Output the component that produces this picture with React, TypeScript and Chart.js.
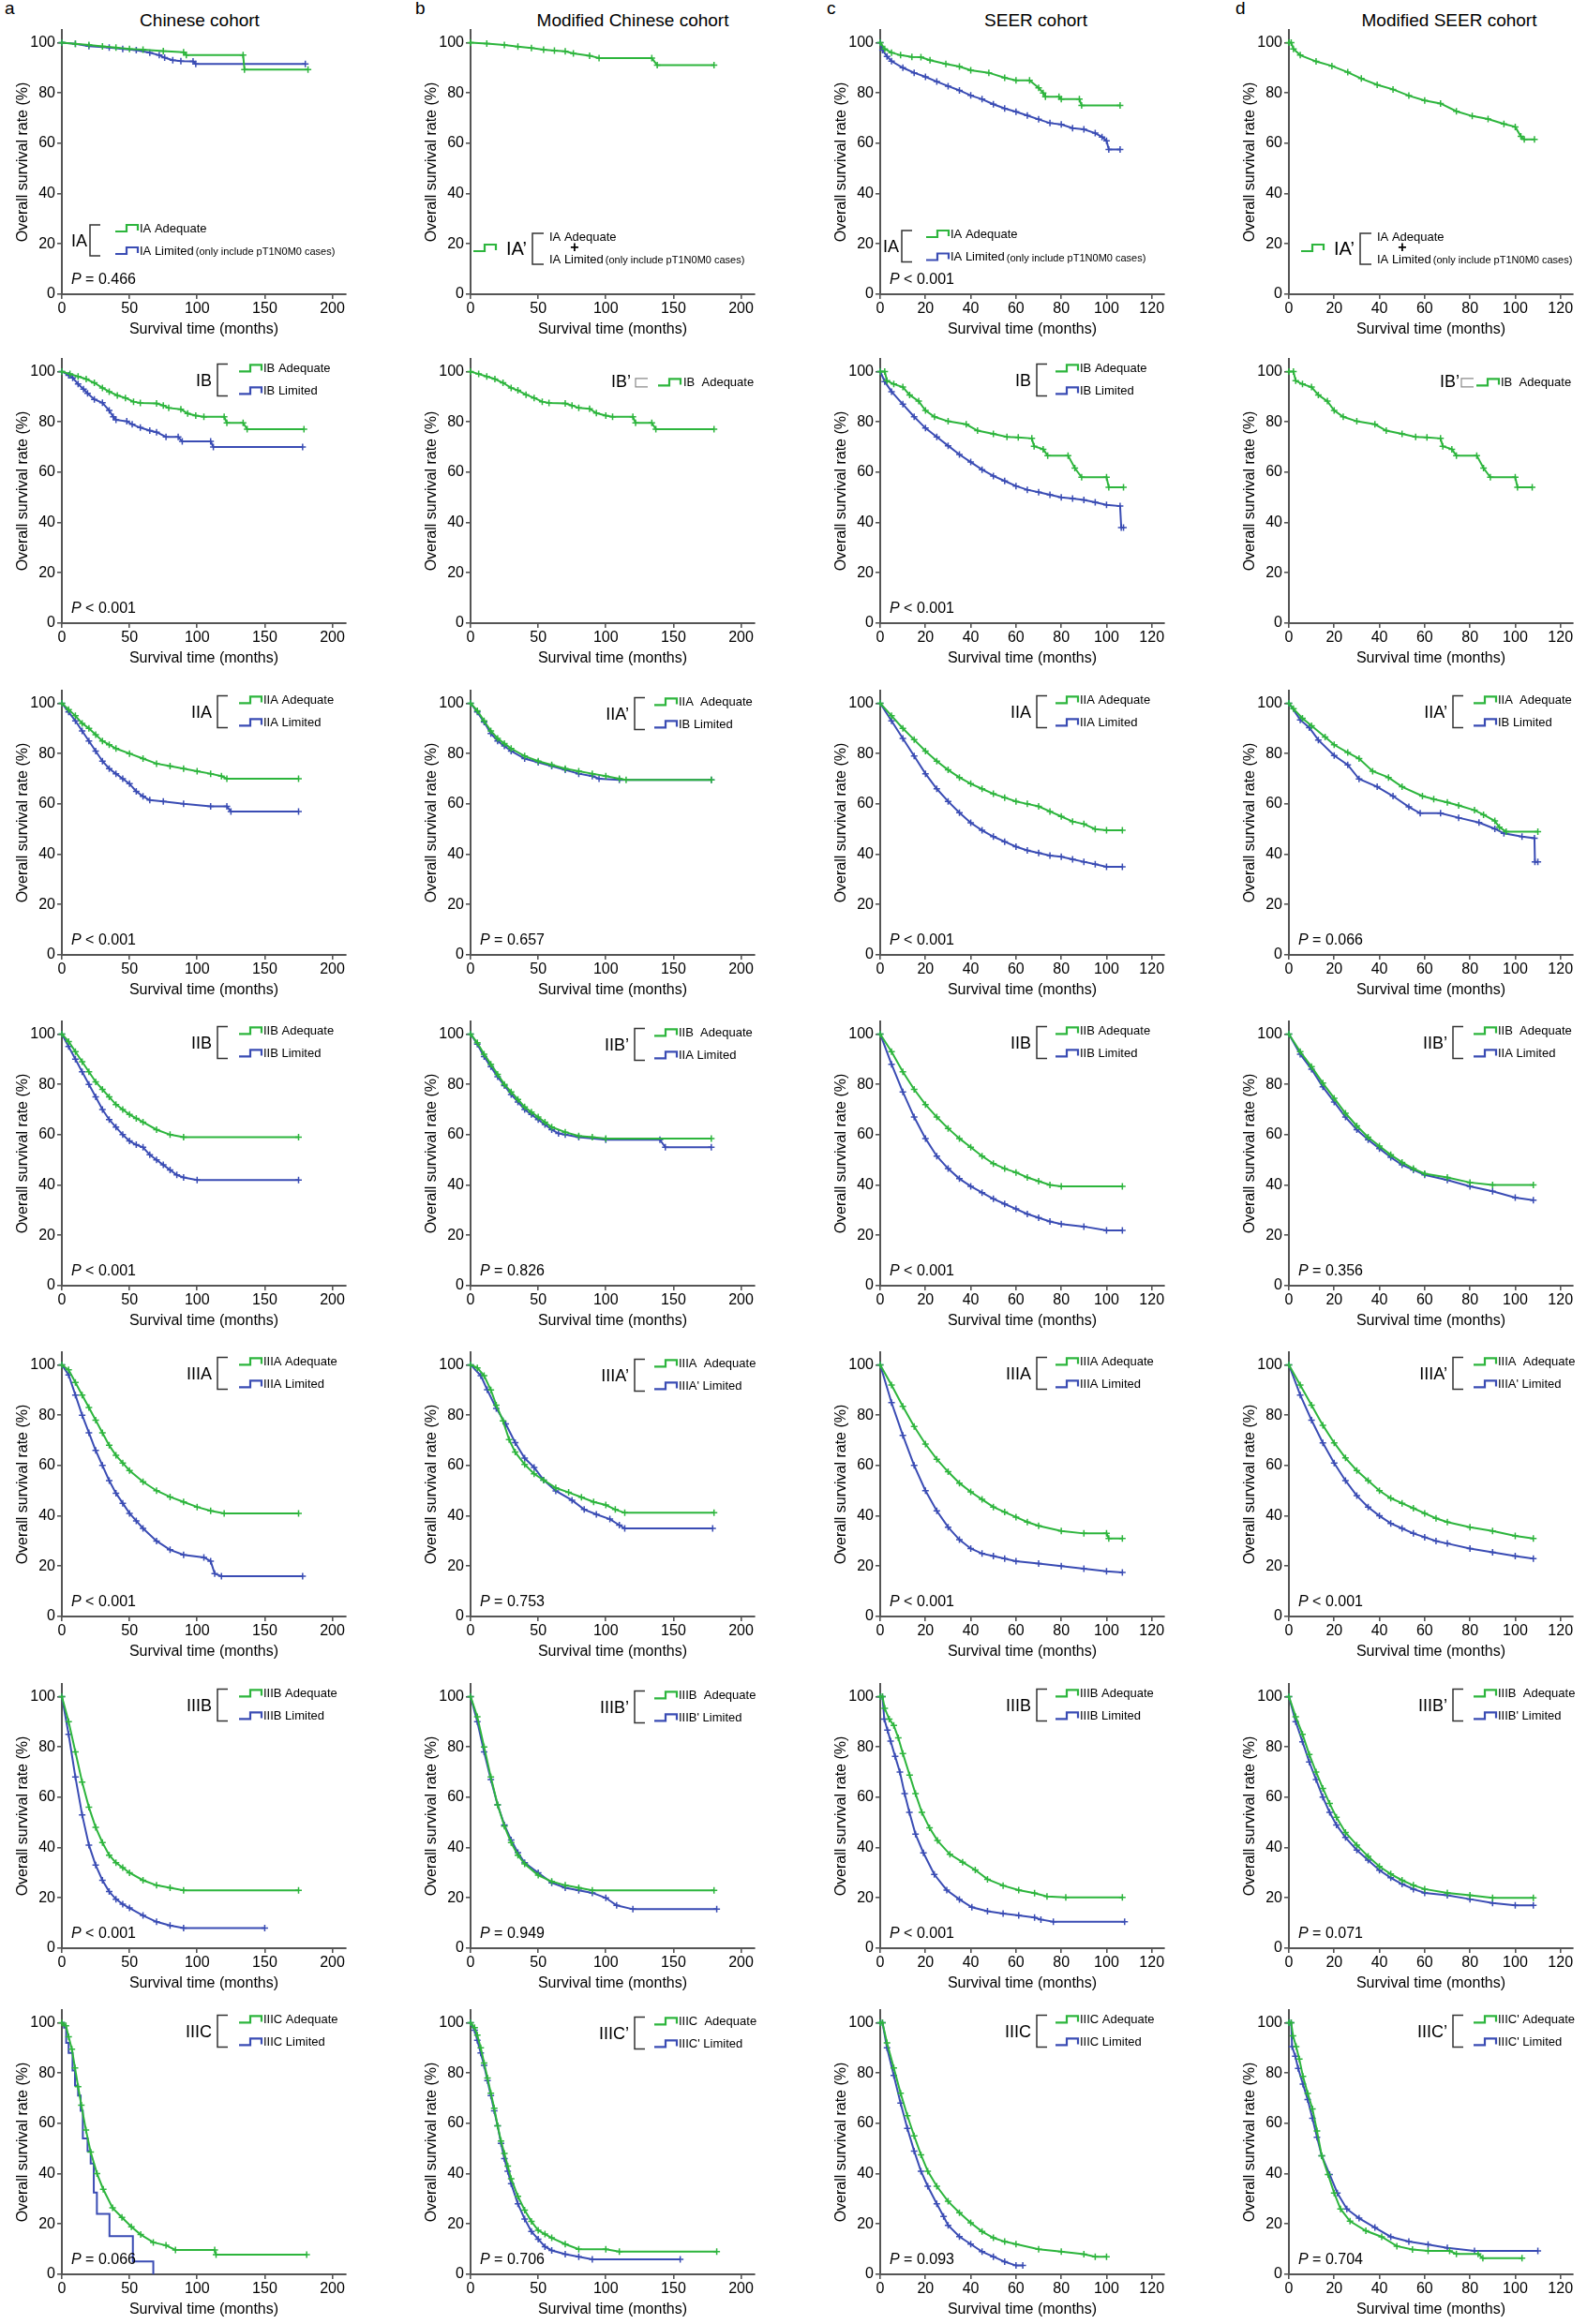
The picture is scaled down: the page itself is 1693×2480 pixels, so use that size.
import React, { useEffect, useRef } from "react";
import { Chart, registerables } from "chart.js";

Chart.register(...registerables);

type Pt = [number, number];

// ---------------- text ----------------
const COLUMN_LETTERS = ["a", "b", "c", "d"];
const COLUMN_TITLES = ["Chinese cohort", "Modified Chinese cohort", "SEER cohort", "Modified SEER cohort"];
const STAGES = ["IA", "IB", "IIA", "IIB", "IIIA", "IIIB", "IIIC"];
const MOD_LABELS = ["IA\u2019", "IB\u2019", "IIA\u2019", "IIB\u2019", "IIIA\u2019", "IIIB\u2019", "IIIC\u2019"];
const MCN_ADEQ_TEXT = ["IA Adequate", "IB  Adequate", "IIA  Adequate", "IIB  Adequate", "IIIA  Adequate", "IIIB  Adequate", "IIIC  Adequate"];
const MSEER_ADEQ_TEXT = ["IA Adequate", "IB  Adequate", "IIA  Adequate", "IIB  Adequate", "IIIA  Adequate", "IIIB  Adequate", "IIIC' Adequate"];
const MOD_LIM_TEXT = ["IA Limited", "", "IB Limited", "IIA Limited", "IIIA' Limited", "IIIB' Limited", "IIIC' Limited"];
const IA_NOTE = "(only include pT1N0M0 cases)";
const X_AXIS_TITLE = "Survival time (months)";
const Y_AXIS_TITLE = "Overall survival rate (%)";
const X_TICKS_CN = [0, 50, 100, 150, 200];
const X_TICKS_SEER = [0, 20, 40, 60, 80, 100, 120];
const Y_TICKS = [0, 20, 40, 60, 80, 100];

const P_CN = ["= 0.466", "< 0.001", "< 0.001", "< 0.001", "< 0.001", "< 0.001", "= 0.066"];
const P_MCN = [null, null, "= 0.657", "= 0.826", "= 0.753", "= 0.949", "= 0.706"];
const P_SEER = ["< 0.001", "< 0.001", "< 0.001", "< 0.001", "< 0.001", "< 0.001", "= 0.093"];
const P_MSEER = [null, null, "= 0.066", "= 0.356", "< 0.001", "= 0.071", "= 0.704"];

// ---------------- survival data [months, %] ----------------
// Row IA
const CN_IA_ADEQ: Pt[] = [[0,100],[10,99.5],[20,99],[30,98.5],[40,98],[50,97.5],[60,97.2],[75,96.6],[90,96.2],[92,95],[134,95],[135,89.3],[182,89.3]];
const CN_IA_LIM: Pt[] = [[0,100],[10,99.5],[20,98.6],[35,98],[45,97.5],[55,97],[65,96],[72,95],[76,94],[82,93],[88,92.6],[97,92.5],[99,91.5],[180,91.5]];
const MCN_IA: Pt[] = [[0,100],[12,99.6],[25,99],[35,98.4],[45,97.8],[54,97.2],[62,96.8],[70,96.5],[76,95.7],[88,94.8],[95,93.8],[134,93.8],[138,91],[180,91]];
const SEER_IA_ADEQ: Pt[] = [[0,100],[2,97.5],[5,96],[9,95],[14,94.3],[18,94.2],[22,93],[29,91.5],[35,90.5],[40,89],[48,88],[55,86],[60,85],[66,85],[70,82],[72,80],[73,78.5],[79,78.5],[80,77.5],[88,77.5],[89,75],[106,75]];
const SEER_IA_LIM: Pt[] = [[0,100],[1,97],[3,94.5],[5,92.6],[10,90],[15,88],[20,86.4],[25,84.5],[30,82.7],[35,81],[40,79],[45,77.5],[50,75.5],[55,73.8],[60,72.5],[65,71],[70,69.5],[75,68],[80,67.5],[85,66],[90,65.5],[95,64],[98,62.5],[100,61],[101,57.5],[106,57.5]];
const MSEER_IA: Pt[] = [[0,100],[1,100],[2,97.5],[5,95],[12,92.5],[19,90.7],[26,88.2],[32,85.7],[39,83.2],[46,81.4],[53,78.9],[60,77],[67,75.8],[74,72.7],[81,70.8],[88,69.6],[95,67.7],[100,66.5],[102.5,62.7],[104,61.5],[108.5,61.5]];

// Row IB
const CN_IB_ADEQ: Pt[] = [[0,100],[6,99],[12,98],[18,97],[24,95.5],[30,93.5],[35,92],[41,90.5],[47,89.5],[53,88],[58,87.5],[70,87.3],[75,86.5],[79,85.5],[88,85],[93,83.3],[99,82.5],[105,82],[120,82],[122,79.6],[134,79.6],[137,77.1],[179,77.1]];
const CN_IB_LIM: Pt[] = [[0,100],[5,98.5],[8,97.5],[12,95],[16,93],[19,91.3],[24,88.9],[30,87.6],[35,84.5],[38,82],[40,80.8],[48,80.2],[52,79],[58,77.7],[65,76.5],[70,75.9],[77,74],[86,74],[89,72.2],[110,72.2],[112,70],[178,70]];
const MCN_IB: Pt[] = [[0,100],[6,99],[12,98],[18,97],[24,95.5],[30,93.5],[35,92.5],[41,90.8],[47,89.5],[53,88],[58,87.5],[70,87.3],[75,86.5],[80,85.5],[88,85.2],[93,83.5],[100,82.5],[105,82],[120,82],[122,79.6],[134,79.6],[137,77.1],[180,77.1]];
const SEER_IB_ADEQ: Pt[] = [[0,100],[2,100],[3,96.3],[6,95],[10,93.8],[13,90.7],[17,88.2],[20,84.5],[24,82],[30,80.2],[38,79],[43,76.5],[50,75.2],[56,74],[61,73.8],[67,73.4],[68,70.3],[72,69.1],[74,66.6],[83,66.6],[86,61.6],[89,58],[100,58],[101,54],[107.5,54]];
const SEER_IB_LIM: Pt[] = [[0,100],[2,96],[5,92],[10,87],[15,82],[20,77.5],[25,74],[30,70.5],[35,67],[40,64],[45,61],[50,58.5],[55,56.5],[60,54.5],[65,53],[70,52],[75,51],[80,50],[85,49.5],[90,49],[95,48],[100,47],[106,46.5],[106.5,38],[107.5,38]];
const MSEER_IB: Pt[] = [[0,100],[2,100],[3,96.3],[6,95],[10,93.8],[13,90.7],[17,88.2],[20,84.5],[24,82],[30,80.2],[38,79],[43,76.5],[50,75.2],[56,74],[61,73.8],[67,73.4],[68,70.3],[72,69.1],[74,66.6],[83,66.6],[86,61.6],[89,58],[100,58],[101,54],[107.5,54]];

// Row IIA
const CN_IIA_ADEQ: Pt[] = [[0,100],[5,97.5],[10,95],[15,92],[20,90],[25,87.5],[30,85],[35,83.5],[40,82],[50,80],[60,78],[70,76],[80,75],[90,74],[100,73],[110,72],[118,71],[122,70],[175,70]];
const CN_IIA_LIM: Pt[] = [[0,100],[5,96.5],[10,93],[15,89],[20,85],[25,81],[30,77],[35,74],[40,72],[45,70],[50,68],[55,65],[60,63],[65,61.5],[75,61],[90,60],[110,59],[122,59],[125,57],[175,57]];
const MCN_IIA_ADEQ: Pt[] = [[0,100],[5,97],[10,93],[15,89],[20,86],[25,84],[30,82],[40,79],[50,77],[60,75.5],[70,74],[80,73],[90,72],[100,71],[110,70],[115,69.5],[178,69.5]];
const MCN_IIA_LIM: Pt[] = [[0,100],[5,96.5],[10,92.5],[15,88],[20,85],[25,83],[30,81],[40,78],[50,76.5],[60,75],[70,73.5],[80,72],[90,71],[95,70],[110,69.5],[178,69.5]];
const SEER_IIA_ADEQ: Pt[] = [[0,100],[5,95],[10,90],[15,85.5],[20,81],[25,77],[30,73.5],[35,70.5],[40,68],[45,66],[50,64],[55,62.5],[60,61],[65,60],[70,59],[75,57],[80,55],[85,53],[90,52],[95,50],[100,49.5],[107,49.5]];
const SEER_IIA_LIM: Pt[] = [[0,100],[5,93],[10,86],[15,79],[20,72],[25,66],[30,61],[35,56.5],[40,52.5],[45,49.5],[50,47],[55,45],[60,43],[65,41.5],[70,40.5],[75,39.5],[80,39],[85,38],[90,37],[95,36],[100,35],[107,35]];
const MSEER_IIA_ADEQ: Pt[] = [[0,100],[2,97.8],[6,94],[10,91],[16,86.6],[20,83.5],[26,80.4],[31,78],[37,73],[44,70.5],[50,66.8],[59,63.1],[64,61.9],[70,60.6],[75,59.4],[82,57.5],[86,55.7],[91,53.2],[93,50.7],[96,49],[110,49]];
const MSEER_IIA_LIM: Pt[] = [[0,100],[5,93.4],[9,90.3],[13,85.4],[20,79.2],[26,75.5],[31,69.9],[39,66.8],[46,63.1],[53,58.8],[58,56.3],[67,56.3],[75,54.5],[84,52.6],[91,50.1],[95,48.3],[103,47],[108.5,46.4],[108.7,37],[110,37]];

// Row IIB
const CN_IIB_ADEQ: Pt[] = [[0,100],[5,97],[10,93],[15,89],[20,85],[25,81],[30,78],[35,75],[40,72],[45,70],[50,68],[55,66.5],[60,65],[70,62],[80,60],[90,59],[175,59]];
const CN_IIB_LIM: Pt[] = [[0,100],[5,95],[10,90],[15,85],[20,80],[25,75],[30,70],[35,66],[40,63],[45,60],[50,57.5],[55,56],[60,55],[65,52],[70,50],[75,48],[80,46],[85,44],[90,43],[100,42],[175,42]];
const MCN_IIB_ADEQ: Pt[] = [[0,100],[5,96.5],[10,92],[15,88],[20,84],[25,80],[30,77],[35,74],[40,71],[45,69],[50,67],[55,65],[60,63],[70,61],[80,59.5],[90,59],[100,58.5],[178,58.5]];
const MCN_IIB_LIM: Pt[] = [[0,100],[5,96],[10,91],[15,87],[20,83],[25,79.5],[30,76],[35,73],[40,70],[45,68],[50,66],[55,64],[60,62],[65,60.5],[70,60],[80,59],[100,58],[140,58],[144,55],[178,55]];
const SEER_IIB_ADEQ: Pt[] = [[0,100],[5,93],[10,85],[15,78],[20,72],[25,67],[30,62.5],[35,58.5],[40,55],[45,51.5],[50,48.5],[55,46.5],[60,45],[65,43],[70,41.5],[75,40],[80,39.5],[107,39.5]];
const SEER_IIB_LIM: Pt[] = [[0,100],[5,88],[10,77],[15,67],[20,58.5],[25,51.5],[30,46.5],[35,42.5],[40,39.5],[45,37],[50,34.5],[55,32.5],[60,30.5],[65,28.5],[70,27],[75,25.5],[80,24.5],[90,23.5],[100,22],[107,22]];
const MSEER_IIB_ADEQ: Pt[] = [[0,100],[5,93],[10,87],[15,80.5],[20,74.5],[25,68.5],[30,63.5],[35,59],[40,55.5],[45,52],[50,49],[55,46.5],[60,44.5],[70,43],[80,41],[90,40],[108,40]];
const MSEER_IIB_LIM: Pt[] = [[0,100],[5,92],[10,86],[15,79],[20,73],[25,67],[30,62],[35,58],[40,54.5],[45,51],[50,48],[55,46],[60,44],[70,42],[80,39.5],[90,37.5],[100,35],[108,34]];

// Row IIIA
const CN_IIIA_ADEQ: Pt[] = [[0,100],[5,98],[10,93],[15,88],[20,83],[25,78],[30,73],[35,68],[40,64],[45,61],[50,58],[60,53.5],[70,50],[80,47.5],[90,45.5],[100,43.5],[110,42],[120,41],[175,41]];
const CN_IIIA_LIM: Pt[] = [[0,100],[5,96],[10,88],[15,80],[20,73],[25,66],[30,60],[35,54],[40,49],[45,45],[50,41],[55,38],[60,35],[70,30],[80,26.5],[90,24.5],[105,23.5],[110,22],[113,17],[118,16],[178,16]];
const MCN_IIIA_ADEQ: Pt[] = [[0,100],[5,98.8],[10,95.7],[15,90],[19,84],[24,77.7],[28.5,70.3],[33,65.3],[40,60.4],[47,56.7],[54,54.2],[63,51.1],[72.5,49.3],[82,47.4],[91,45.5],[100,44.3],[107,42.5],[114,41.2],[180,41.2]];
const MCN_IIIA_LIM: Pt[] = [[0,100],[7.6,95.7],[12.3,90.1],[19,82.7],[26,76.5],[33,69.1],[40,62.9],[47,59.2],[54,54.2],[63,49.9],[75,46.2],[84,42.5],[93,40.6],[103,38.7],[110,36.3],[114,35],[179,35]];
const SEER_IIIA_ADEQ: Pt[] = [[0,100],[5,92],[10,83.5],[15,75.5],[20,68.5],[25,62.5],[30,57.5],[35,53],[40,49.5],[45,46.5],[50,43.5],[55,41.5],[60,39.5],[65,37.5],[70,36],[80,34],[90,33],[100,33],[101,31],[107,31]];
const SEER_IIIA_LIM: Pt[] = [[0,100],[5,85],[10,72],[15,60],[20,50],[25,42],[30,35.5],[35,30.5],[40,27],[45,25],[50,24],[55,23],[60,22],[70,21],[80,20],[90,19],[100,18],[107,17.5]];
const MSEER_IIIA_ADEQ: Pt[] = [[0,100],[5,92],[10,84],[15,76],[20,69],[25,63],[30,58],[35,54],[40,50],[45,47],[50,45],[55,43],[60,41],[65,39],[70,37.5],[80,35.5],[90,34],[100,32],[108,31]];
const MSEER_IIIA_LIM: Pt[] = [[0,100],[5,88],[10,78],[15,69],[20,61],[25,54],[30,48],[35,43.5],[40,40],[45,37],[50,35],[55,33],[60,31.5],[65,30],[70,29],[80,27],[90,25.5],[100,24],[108,23]];

// Row IIIB
const CN_IIIB_ADEQ: Pt[] = [[0,100],[5,90],[10,78],[15,66],[20,56],[25,48],[30,42],[35,37],[40,34],[45,32],[50,30],[60,27],[70,25],[80,24],[90,23],[175,23]];
const CN_IIIB_LIM: Pt[] = [[0,100],[5,85],[10,68],[15,53],[20,41],[25,33],[30,27],[35,22.5],[40,19.5],[45,17.5],[50,16],[60,13],[70,10.5],[80,9],[90,8],[150,8]];
const MCN_IIIB_ADEQ: Pt[] = [[0,100],[5,92],[10,80],[15,68],[20,57],[25,48.5],[30,42],[35,37],[40,33.5],[50,29],[60,26.5],[70,25],[80,24],[90,23],[180,23]];
const MCN_IIIB_LIM: Pt[] = [[0,100],[5,90],[10,78],[15,67],[20,57],[25,49],[30,43],[35,38],[40,34],[50,30],[60,26],[70,24],[80,23],[90,22],[100,20],[108,17],[120,15.5],[182,15.5]];
const SEER_IIIB_ADEQ: Pt[] = [[0,100],[1,100],[2,95.3],[4,91],[6,88.5],[8,83.6],[10,77.4],[13,68.8],[15.6,61.4],[18.4,54],[21.8,47.8],[25.3,42.8],[30.8,37.3],[36.4,34.2],[42,31.1],[47.4,27.4],[54.3,24.9],[61.2,23.1],[68.2,21.9],[73.7,20.6],[82,20.2],[107,20.2]];
const SEER_IIIB_LIM: Pt[] = [[0,100],[1,100],[1.8,91],[3.2,86.7],[4.6,82.3],[6.6,76.2],[8.7,70],[10.8,61.4],[12.9,54],[15.6,45.3],[19.1,37.9],[23.9,29.3],[29.4,23.1],[35,19.4],[40.5,16.3],[47.4,14.7],[54.3,13.8],[61.2,13],[68.2,12.2],[71,11.4],[76.5,10.5],[108,10.5]];
const MSEER_IIIB_ADEQ: Pt[] = [[0,100],[3,92],[6,85],[9,77],[12,70],[15,63.5],[18,57.5],[21,52],[25,46],[30,41],[35,36.5],[40,32.5],[45,29.5],[50,27],[55,25],[60,23.5],[70,22],[80,21],[90,20],[108,20]];
const MSEER_IIIB_LIM: Pt[] = [[0,100],[3,90],[6,82],[9,74],[12,67],[15,60],[18,54],[21,49],[25,44],[30,39],[35,35],[40,31],[45,28],[50,25.5],[55,23.5],[60,22],[70,21],[80,19.5],[90,18],[100,17],[108,17]];

// Row IIIC
const CN_IIIC_ADEQ: Pt[] = [[0,100],[3,98.8],[5,94.4],[7.4,89.5],[9.7,82],[12,74.6],[14.4,67.2],[17.8,57.3],[21.3,48.6],[26,40],[30.6,33.8],[37.5,26.4],[44.4,22.6],[51.4,18.9],[58.3,15.8],[67.6,12.7],[77,11.5],[84,9.7],[113,9.7],[114,7.8],[181,7.8]];
const CN_IIIC_LIM: Pt[] = [[0,100],[1.6,100],[1.6,98],[3.2,98],[3.2,92],[5,92],[5,88],[7.9,88],[7.9,81],[9.7,81],[9.7,75],[12,75],[12,71],[13.9,71],[13.9,65],[15.5,65],[15.5,54],[19,54],[19,49],[21.3,49],[21.3,44],[23.6,44],[23.6,32.5],[25.9,32.5],[25.9,24],[35.2,24],[35.2,15.2],[52.5,15.2],[52.5,5.1],[67.6,5.1],[67.6,0]];
const MCN_IIIC_ADEQ: Pt[] = [[0,100],[3,98],[5,95],[7.5,90],[10,84],[12.5,78],[15,72],[17.5,66],[20,59],[22.5,53],[25,48],[27.5,43],[30,38],[35,31],[40,25.5],[45,21],[50,17.5],[55,16],[60,14.5],[70,12],[80,10],[100,10],[110,9],[182,9]];
const MCN_IIIC_LIM: Pt[] = [[0,100],[3,97],[5,93],[7.5,88],[10,83],[12.5,77],[15,71],[17.5,65],[20,59],[22.5,52],[25,46],[27.5,41],[30,36],[35,28],[40,22],[45,17],[50,14],[55,11],[60,9.5],[70,8],[80,7],[90,6],[155,6]];
const SEER_IIIC_ADEQ: Pt[] = [[0,100],[1,100],[3,92],[6,82],[9,72],[12,63],[15,55],[18,47.5],[21,41],[25,35],[30,29],[35,24.5],[40,20.5],[45,17],[50,14.5],[55,13],[60,12],[70,10],[80,9],[90,8],[95,7],[100,7]];
const SEER_IIIC_LIM: Pt[] = [[0,100],[1,100],[3,90],[6,79],[9,68],[12,58],[15,49],[18,41],[21,35],[25,28],[28,23],[30,19.5],[35,15],[40,12],[45,9],[50,7],[55,5],[60,3.5],[63,3.5]];
const MSEER_IIIC_ADEQ: Pt[] = [[0,100],[1,100],[1.8,94.8],[3.2,90.5],[4.6,85.5],[6.2,78.7],[8.3,71.9],[10.4,65.7],[12.4,57],[14.5,47.1],[17.3,39.7],[20,32.3],[22.8,26],[27,21.1],[34,17.3],[41,14.9],[47.7,11.2],[54.6,9.9],[61.5,9.3],[71,9.3],[74,8.1],[83.6,8.1],[85.7,6.4],[103,6.4]];
const MSEER_IIIC_LIM: Pt[] = [[0,100],[1,100],[1.4,90.5],[2.8,86.7],[4.1,81.8],[6.2,75.6],[8.3,69.4],[10.4,62],[12.4,54.5],[14.5,47.1],[18,39.7],[21.4,32.3],[25.6,26],[31,22.3],[38,18.6],[45,14.9],[53,13],[61.5,11.8],[70,10.5],[82,9.3],[110,9.3]];

const CN_CURVES: Pt[][][] = [
  [CN_IA_ADEQ, CN_IA_LIM], [CN_IB_ADEQ, CN_IB_LIM], [CN_IIA_ADEQ, CN_IIA_LIM], [CN_IIB_ADEQ, CN_IIB_LIM],
  [CN_IIIA_ADEQ, CN_IIIA_LIM], [CN_IIIB_ADEQ, CN_IIIB_LIM], [CN_IIIC_ADEQ, CN_IIIC_LIM],
];
const MCN_CURVES: Pt[][][] = [
  [MCN_IA], [MCN_IB], [MCN_IIA_ADEQ, MCN_IIA_LIM], [MCN_IIB_ADEQ, MCN_IIB_LIM],
  [MCN_IIIA_ADEQ, MCN_IIIA_LIM], [MCN_IIIB_ADEQ, MCN_IIIB_LIM], [MCN_IIIC_ADEQ, MCN_IIIC_LIM],
];
const SEER_CURVES: Pt[][][] = [
  [SEER_IA_ADEQ, SEER_IA_LIM], [SEER_IB_ADEQ, SEER_IB_LIM], [SEER_IIA_ADEQ, SEER_IIA_LIM], [SEER_IIB_ADEQ, SEER_IIB_LIM],
  [SEER_IIIA_ADEQ, SEER_IIIA_LIM], [SEER_IIIB_ADEQ, SEER_IIIB_LIM], [SEER_IIIC_ADEQ, SEER_IIIC_LIM],
];
const MSEER_CURVES: Pt[][][] = [
  [MSEER_IA], [MSEER_IB], [MSEER_IIA_ADEQ, MSEER_IIA_LIM], [MSEER_IIB_ADEQ, MSEER_IIB_LIM],
  [MSEER_IIIA_ADEQ, MSEER_IIIA_LIM], [MSEER_IIIB_ADEQ, MSEER_IIIB_LIM], [MSEER_IIIC_ADEQ, MSEER_IIIC_LIM],
];

// ---------------- style / layout ----------------
const FONT = "'Liberation Sans', Arial, Helvetica, sans-serif";
const GREEN = "#2db53d";
const BLUE = "#3a4cb4";
const AXIS = "#555555";
const TEXT = "#000000";
const COL_AXIS_X = [66, 502, 939, 1375];
const ROW_Y100 = [46, 397, 751, 1104, 1457, 1811, 2159];
const TITLE_CX = [213, 675, 1105, 1546];
const LETTER_X = [5, 443, 882, 1318];
const Y_AXIS_W = 70;
const X_AXIS_H = 50;
const PAD_TOP = 20;
const PAD_RIGHT = 15;
const PLOT_W = 303;
const PLOT_H = 282;
const CANVAS_W = Y_AXIS_W + PLOT_W + PAD_RIGHT;
const CANVAS_H = PAD_TOP + PLOT_H + X_AXIS_H;

function drawIcon(ctx: CanvasRenderingContext2D, x: number, y: number, color: string) {
  ctx.save();
  ctx.strokeStyle = color;
  ctx.lineWidth = 2.2;
  ctx.beginPath();
  ctx.moveTo(x, y + 3);
  ctx.lineTo(x + 12, y + 3);
  ctx.lineTo(x + 12, y - 4);
  ctx.lineTo(x + 24, y - 4);
  ctx.lineTo(x + 24, y + 2);
  ctx.stroke();
  ctx.restore();
}

function drawBracket(ctx: CanvasRenderingContext2D, x: number, top: number, bottom: number, arm: number, color: string, w: number) {
  ctx.save();
  ctx.strokeStyle = color;
  ctx.lineWidth = w;
  ctx.beginPath();
  ctx.moveTo(x + arm, top);
  ctx.lineTo(x, top);
  ctx.lineTo(x, bottom);
  ctx.lineTo(x + arm, bottom);
  ctx.stroke();
  ctx.restore();
}

function text(ctx: CanvasRenderingContext2D, s: string, x: number, y: number, size: number, align: CanvasTextAlign = "left", style = "") {
  ctx.font = `${style} ${size}px ${FONT}`;
  ctx.fillStyle = TEXT;
  ctx.textAlign = align;
  ctx.textBaseline = "middle";
  ctx.fillText(s, x, y);
  return ctx.measureText(s).width;
}

function makeOverlay(spec: any) {
  return {
    id: "kmOverlay",
    afterDraw(chart: any) {
      const ctx: CanvasRenderingContext2D = chart.ctx;
      const L = chart.chartArea.left;
      const B = chart.chartArea.bottom;
      const y100 = chart.scales.y.getPixelForValue(100);
      const lg = spec.legend;
      ctx.save();
      if (lg.kind === "pairTop") {
        const r1 = y100 - 3 + lg.dy;
        const r2 = r1 + 24;
        drawBracket(ctx, L + lg.bx, r1 - 5, r2 + 5, 11, "#333", 1.5);
        text(ctx, lg.label, L + lg.bx - 6, (r1 + r2) / 2 + 2, 18, "right");
        drawIcon(ctx, L + lg.ix, r1, GREEN);
        drawIcon(ctx, L + lg.ix, r2, BLUE);
        text(ctx, lg.texts[0], L + lg.ix + 26, r1, 13);
        text(ctx, lg.texts[1], L + lg.ix + 26, r2, 13);
      } else if (lg.kind === "pairBottom") {
        const r1 = B + lg.r1;
        const r2 = B + lg.r2;
        drawBracket(ctx, L + lg.bx, r1 - 4, r2 + 5, 11, "#333", 1.5);
        text(ctx, lg.label, L + lg.bx - 3, (r1 + r2) / 2 + 2, 18, "right");
        drawIcon(ctx, L + lg.ix, r1, GREEN);
        drawIcon(ctx, L + lg.ix, r2, BLUE);
        text(ctx, lg.texts[0], L + lg.ix + 26, r1, 13);
        const w = text(ctx, lg.texts[1], L + lg.ix + 26, r2, 13);
        text(ctx, lg.note, L + lg.ix + 26 + w + 2, r2 + 1, 11);
      } else if (lg.kind === "merged") {
        const b = L + lg.base;
        drawIcon(ctx, b + 3, B - 49, GREEN);
        text(ctx, lg.label, b + 38, B - 48, 20);
        drawBracket(ctx, b + 66, B - 65, B - 32, 12, "#333", 1.5);
        text(ctx, lg.texts[0], b + 84, B - 61, 13);
        text(ctx, "+", b + 111, B - 49, 16, "center", "bold");
        const w = text(ctx, lg.texts[1], b + 84, B - 37, 13);
        text(ctx, lg.note, b + 84 + w + 2, B - 36, 11);
      } else if (lg.kind === "single") {
        const y = y100 + 12;
        text(ctx, lg.label, L + lg.lr, y, 18, "right");
        drawBracket(ctx, L + lg.bx, y - 4.5, y + 4.5, 13, "#8a8a8a", 1.2);
        drawIcon(ctx, L + lg.ix, y, GREEN);
        text(ctx, lg.text, L + lg.tx, y, 13);
      }
      if (spec.p) {
        const w = text(ctx, "P", L + 10, B - 15.5, 16, "left", "italic");
        text(ctx, " " + spec.p, L + 10 + w, B - 15.5, 16);
      }
      ctx.restore();
    },
  };
}

function buildConfig(spec: any) {
  const isCN = spec.col < 2;
  const xTicks = isCN ? X_TICKS_CN : X_TICKS_SEER;
  const tickFont = { family: FONT, size: 16 };
  return {
    type: "line",
    data: {
      datasets: spec.curves.map((c: any) => ({
        data: c.data.map((p: Pt) => ({ x: p[0], y: p[1] })),
        borderColor: c.color,
        backgroundColor: c.color,
        borderWidth: 2,
        pointStyle: "cross",
        pointRadius: c.marks ? 3.5 : 0,
        pointBorderWidth: 1.5,
        pointBorderColor: c.color,
        pointBackgroundColor: c.color,
        tension: 0,
        fill: false,
        clip: false,
      })),
    },
    options: {
      responsive: false,
      animation: false,
      devicePixelRatio: 1,
      events: [],
      layout: { padding: { top: PAD_TOP, right: PAD_RIGHT, left: 0, bottom: 0 } },
      plugins: { legend: { display: false }, tooltip: { enabled: false }, title: { display: false } },
      scales: {
        x: {
          type: "linear",
          min: 0,
          max: isCN ? 210 : 125.5,
          afterBuildTicks: (s: any) => { s.ticks = xTicks.map((v) => ({ value: v })); },
          afterFit: (s: any) => { s.height = X_AXIS_H; },
          grid: { drawOnChartArea: false, drawTicks: true, tickLength: 5, color: AXIS, lineWidth: 1.6 },
          border: { display: true, color: AXIS, width: 2 },
          ticks: { font: tickFont, color: TEXT, padding: 1, maxRotation: 0, autoSkip: false },
          title: { display: true, text: X_AXIS_TITLE, font: tickFont, color: TEXT, padding: { top: 0, bottom: 3 } },
        },
        y: {
          type: "linear",
          min: 0,
          max: 105,
          afterBuildTicks: (s: any) => { s.ticks = Y_TICKS.map((v) => ({ value: v })); },
          afterFit: (s: any) => { s.width = Y_AXIS_W; },
          grid: { drawOnChartArea: false, drawTicks: true, tickLength: 5, color: AXIS, lineWidth: 1.6 },
          border: { display: true, color: AXIS, width: 2 },
          ticks: { font: tickFont, color: TEXT, padding: 2, autoSkip: false },
          title: { display: true, text: Y_AXIS_TITLE, font: tickFont, color: TEXT, padding: { top: 19, bottom: 0 } },
        },
      },
    },
    plugins: [makeOverlay(spec)],
  };
}

function buildPanels() {
  const panels: any[] = [];
  for (let r = 0; r < 7; r++) {
    const st = STAGES[r];
    panels.push({
      col: 0, row: r, p: P_CN[r],
      curves: [{ data: CN_CURVES[r][0], color: GREEN, marks: true }, { data: CN_CURVES[r][1], color: BLUE, marks: r !== 6 }],
      legend: r === 0
        ? { kind: "pairBottom", label: st, texts: [`${st} Adequate`, `${st} Limited`], note: IA_NOTE, bx: 30, ix: 57, r1: -70, r2: -46 }
        : { kind: "pairTop", label: st, texts: [`${st} Adequate`, `${st} Limited`], bx: 166, ix: 189, dy: 0 },
    });
    panels.push({
      col: 1, row: r, p: P_MCN[r],
      curves: MCN_CURVES[r].map((d, i) => ({ data: d, color: i === 0 ? GREEN : BLUE, marks: true })),
      legend: r === 0
        ? { kind: "merged", label: MOD_LABELS[0], texts: [MCN_ADEQ_TEXT[0], MOD_LIM_TEXT[0]], note: IA_NOTE, base: 0 }
        : r === 1
        ? { kind: "single", label: MOD_LABELS[1], text: MCN_ADEQ_TEXT[1], lr: 171, bx: 176, ix: 200, tx: 227 }
        : { kind: "pairTop", label: MOD_LABELS[r], texts: [MCN_ADEQ_TEXT[r], MOD_LIM_TEXT[r]], bx: 175, ix: 196, dy: 2 },
    });
    panels.push({
      col: 2, row: r, p: P_SEER[r],
      curves: [{ data: SEER_CURVES[r][0], color: GREEN, marks: true }, { data: SEER_CURVES[r][1], color: BLUE, marks: true }],
      legend: r === 0
        ? { kind: "pairBottom", label: st, texts: [`${st} Adequate`, `${st} Limited`], note: IA_NOTE, bx: 23, ix: 49, r1: -64, r2: -39.5 }
        : { kind: "pairTop", label: st, texts: [`${st} Adequate`, `${st} Limited`], bx: 167, ix: 187, dy: 0 },
    });
    panels.push({
      col: 3, row: r, p: P_MSEER[r],
      curves: MSEER_CURVES[r].map((d, i) => ({ data: d, color: i === 0 ? GREEN : BLUE, marks: true })),
      legend: r === 0
        ? { kind: "merged", label: MOD_LABELS[0], texts: [MSEER_ADEQ_TEXT[0], MOD_LIM_TEXT[0]], note: IA_NOTE, base: 10 }
        : r === 1
        ? { kind: "single", label: MOD_LABELS[1], text: MSEER_ADEQ_TEXT[1], lr: 182, bx: 184, ix: 200, tx: 226 }
        : { kind: "pairTop", label: MOD_LABELS[r], texts: [MSEER_ADEQ_TEXT[r], MOD_LIM_TEXT[r]], bx: 175, ix: 197, dy: 0 },
    });
  }
  return panels;
}

const PANELS = buildPanels();

function Panel({ spec }: { spec: any }) {
  const ref = useRef<HTMLCanvasElement>(null);
  useEffect(() => {
    const chart = new Chart(ref.current as HTMLCanvasElement, buildConfig(spec) as any);
    return () => chart.destroy();
  }, [spec]);
  const left = COL_AXIS_X[spec.col] - Y_AXIS_W;
  const top = ROW_Y100[spec.row] - 34;
  return (
    <canvas
      ref={ref}
      width={CANVAS_W}
      height={CANVAS_H}
      style={{ position: "absolute", left, top, width: CANVAS_W, height: CANVAS_H }}
    />
  );
}

export default function App() {
  return (
    <div
      style={{
        position: "absolute", left: 0, top: 0, width: 1693, height: 2480, overflow: "hidden",
        background: "#ffffff", fontFamily: FONT, color: TEXT,
      }}
    >
      {COLUMN_LETTERS.map((l, i) => (
        <div key={"l" + i} style={{ position: "absolute", left: LETTER_X[i], top: -1, fontSize: 19, lineHeight: "19px" }}>{l}</div>
      ))}
      {COLUMN_TITLES.map((t, i) => (
        <div key={"t" + i} style={{ position: "absolute", left: TITLE_CX[i], top: 12, fontSize: 19, lineHeight: "19px", transform: "translateX(-50%)", whiteSpace: "nowrap" }}>{t}</div>
      ))}
      {PANELS.map((p, i) => <Panel key={i} spec={p} />)}
    </div>
  );
}
